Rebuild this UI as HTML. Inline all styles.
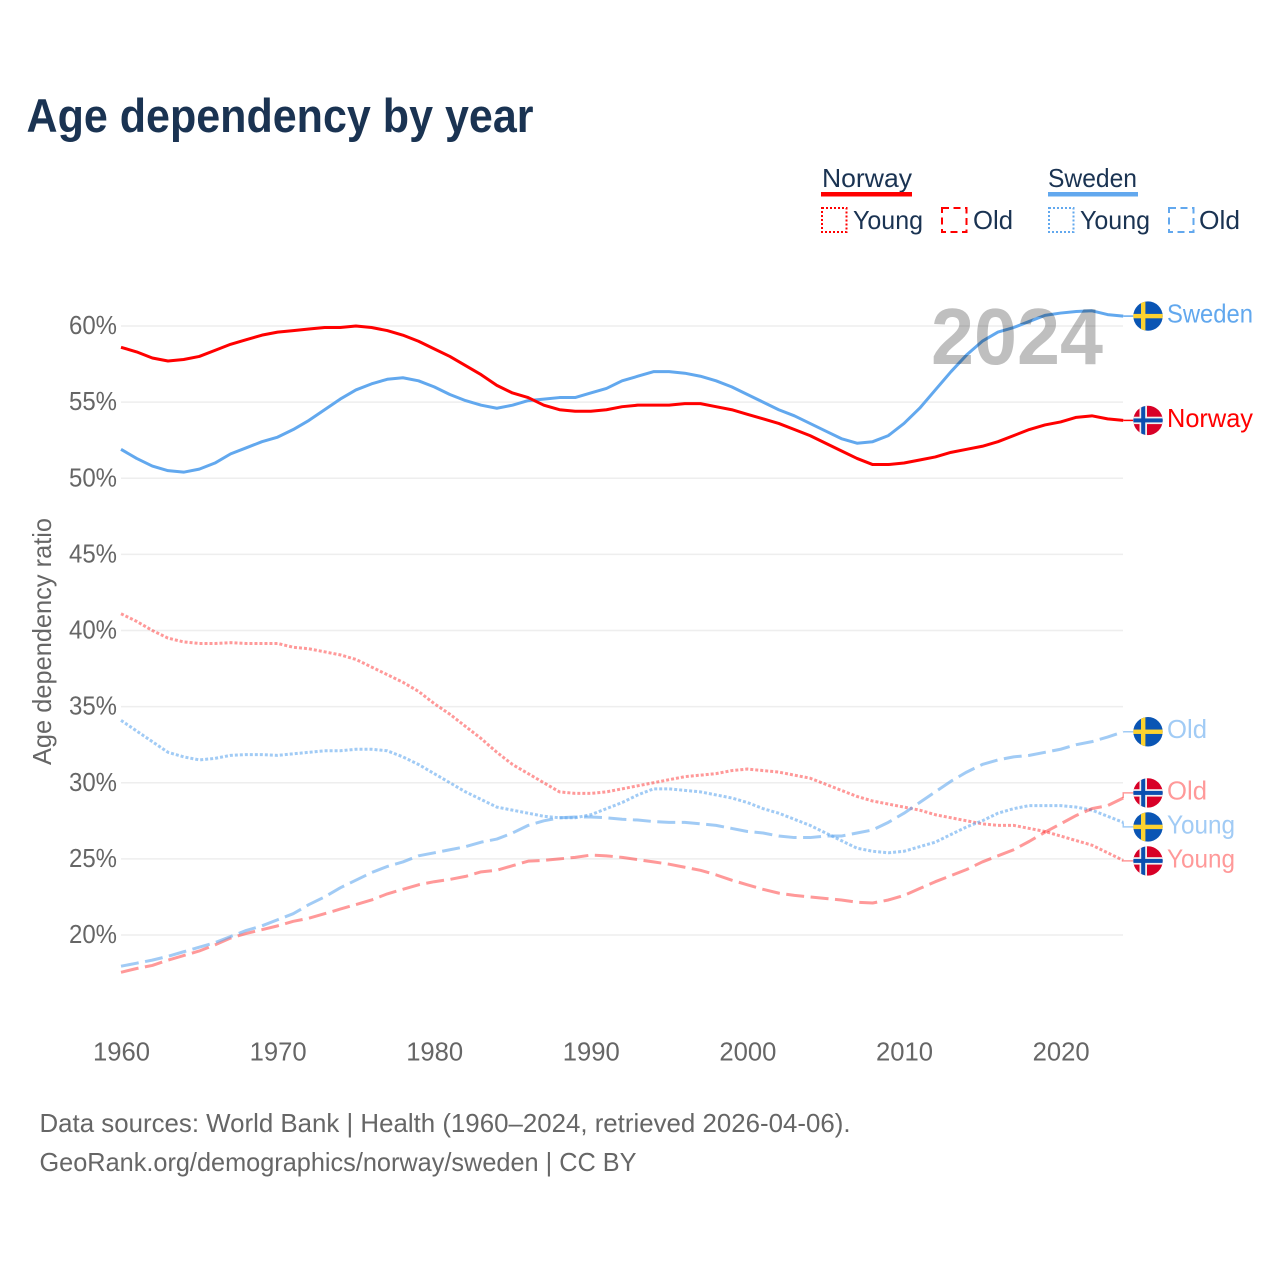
<!DOCTYPE html>
<html lang="en">
<head>
<meta charset="utf-8">
<title>Age dependency by year</title>
<style>
html,body{margin:0;padding:0;background:#fff}
svg{display:block}
text{font-family:"Liberation Sans",sans-serif}
</style>
</head>
<body>
<svg id="chart" xmlns="http://www.w3.org/2000/svg" width="1280" height="1280" viewBox="0 0 1280 1280">
  <defs>
    <clipPath id="flag-clip"><circle cx="0" cy="0" r="14.7"></circle></clipPath>
  </defs>
  <rect width="1280" height="1280" fill="#fff"></rect>
  <text x="26.5" y="132" font-size="47" font-weight="700" fill="#1a3352" textLength="507" lengthAdjust="spacingAndGlyphs">Age dependency by year</text>

  <g font-size="26" fill="#1a3352">
    <text x="822" y="187" textLength="90" lengthAdjust="spacingAndGlyphs">Norway</text>
    <rect x="821" y="192" width="91" height="4.5" fill="#ff0000"></rect>
    <rect x="822" y="208" width="24.5" height="24" fill="none" stroke="#ff0000" stroke-width="2" stroke-dasharray="2 2"></rect>
    <text x="853" y="229" textLength="70" lengthAdjust="spacingAndGlyphs">Young</text>
    <rect x="942" y="208" width="24.5" height="24" fill="none" stroke="#ff0000" stroke-width="2" stroke-dasharray="7 4.5"></rect>
    <text x="973" y="229" textLength="40" lengthAdjust="spacingAndGlyphs">Old</text>
    <text x="1048" y="187" textLength="89" lengthAdjust="spacingAndGlyphs">Sweden</text>
    <rect x="1048" y="192" width="90" height="4.5" fill="#62a8ee"></rect>
    <rect x="1049" y="208" width="24.5" height="24" fill="none" stroke="#62a8ee" stroke-width="2" stroke-dasharray="2 2"></rect>
    <text x="1080" y="229" textLength="70" lengthAdjust="spacingAndGlyphs">Young</text>
    <rect x="1169" y="208" width="24.5" height="24" fill="none" stroke="#62a8ee" stroke-width="2" stroke-dasharray="7 4.5"></rect>
    <text x="1199" y="229" textLength="41" lengthAdjust="spacingAndGlyphs">Old</text>
  </g>

  <g id="grid"></g>
  <g id="y-ticks"></g>
  <g id="x-ticks"></g>
  <text transform="translate(51,765) rotate(-90)" font-size="26" fill="#666666" textLength="247" lengthAdjust="spacingAndGlyphs">Age dependency ratio</text>
  <g id="series"></g>
  <text x="931" y="364" font-size="80" font-weight="700" fill="#000000" fill-opacity="0.25" textLength="172" lengthAdjust="spacingAndGlyphs">2024</text>
  <g id="end-labels"></g>

  <g font-size="26" fill="#666666">
    <text x="39.5" y="1132" textLength="811" lengthAdjust="spacingAndGlyphs">Data sources: World Bank | Health (1960–2024, retrieved 2026-04-06).</text>
    <text x="39.5" y="1171" textLength="597" lengthAdjust="spacingAndGlyphs">GeoRank.org/demographics/norway/sweden | CC BY</text>
  </g>
</svg>
<script>
const startYear = 1960;
const yTicks = [20, 25, 30, 35, 40, 45, 50, 55, 60];
const xTicks = [1960, 1970, 1980, 1990, 2000, 2010, 2020];

const norwayTotal = [
  58.6, 58.3, 57.9, 57.7, 57.8, 58.0, 58.4, 58.8, 59.1, 59.4,
  59.6, 59.7, 59.8, 59.9, 59.9, 60.0, 59.9, 59.7, 59.4, 59.0,
  58.5, 58.0, 57.4, 56.8, 56.1, 55.6, 55.3, 54.8, 54.5, 54.4,
  54.4, 54.5, 54.7, 54.8, 54.8, 54.8, 54.9, 54.9, 54.7, 54.5,
  54.2, 53.9, 53.6, 53.2, 52.8, 52.3, 51.8, 51.3, 50.9, 50.9,
  51.0, 51.2, 51.4, 51.7, 51.9, 52.1, 52.4, 52.8, 53.2, 53.5,
  53.7, 54.0, 54.1, 53.9, 53.8
];
const swedenTotal = [
  51.9, 51.3, 50.8, 50.5, 50.4, 50.6, 51.0, 51.6, 52.0, 52.4,
  52.7, 53.2, 53.8, 54.5, 55.2, 55.8, 56.2, 56.5, 56.6, 56.4,
  56.0, 55.5, 55.1, 54.8, 54.6, 54.8, 55.1, 55.2, 55.3, 55.3,
  55.6, 55.9, 56.4, 56.7, 57.0, 57.0, 56.9, 56.7, 56.4, 56.0,
  55.5, 55.0, 54.5, 54.1, 53.6, 53.1, 52.6, 52.3, 52.4, 52.8,
  53.6, 54.6, 55.8, 57.0, 58.1, 59.0, 59.6, 59.9, 60.3, 60.7,
  60.85, 60.95, 61.0, 60.75, 60.65
];
const norwayYoung = [
  41.1, 40.6, 40.0, 39.5, 39.25, 39.15, 39.15, 39.2, 39.15, 39.15,
  39.15, 38.9, 38.8, 38.6, 38.4, 38.1, 37.6, 37.1, 36.6, 36.0,
  35.2, 34.5, 33.7, 32.9, 32.0, 31.2, 30.6, 30.0, 29.4, 29.3,
  29.3, 29.4, 29.6, 29.8, 30.0, 30.2, 30.4, 30.5, 30.6, 30.8,
  30.9, 30.8, 30.7, 30.5, 30.3, 29.9, 29.5, 29.1, 28.8, 28.6,
  28.4, 28.2, 27.9, 27.7, 27.5, 27.3, 27.2, 27.2, 27.0, 26.8,
  26.5, 26.2, 25.9, 25.4, 24.9
];
const swedenYoung = [
  34.1, 33.4, 32.7, 32.0, 31.7, 31.5, 31.6, 31.8, 31.85, 31.85,
  31.8, 31.9, 32.0, 32.1, 32.1, 32.2, 32.2, 32.1, 31.7, 31.2,
  30.6, 30.0, 29.4, 28.9, 28.4, 28.2, 28.0, 27.8, 27.7, 27.7,
  27.9, 28.3, 28.7, 29.2, 29.6, 29.6, 29.5, 29.4, 29.2, 29.0,
  28.7, 28.3, 28.0, 27.6, 27.2, 26.7, 26.2, 25.7, 25.5, 25.4,
  25.5, 25.8, 26.1, 26.6, 27.1, 27.5, 28.0, 28.3, 28.5, 28.5,
  28.5, 28.4, 28.2, 27.8, 27.4
];
const swedenOld = [
  17.95, 18.15, 18.35, 18.6, 18.9, 19.2, 19.5, 19.9, 20.3, 20.6,
  21.0, 21.4, 22.0, 22.5, 23.1, 23.6, 24.1, 24.5, 24.8, 25.2,
  25.4, 25.6, 25.8, 26.1, 26.3, 26.7, 27.2, 27.5, 27.7, 27.75,
  27.75, 27.7, 27.6, 27.55, 27.45, 27.4, 27.4, 27.3, 27.2, 27.0,
  26.8, 26.7, 26.5, 26.4, 26.4, 26.5, 26.5, 26.7, 26.9, 27.4,
  28.0, 28.7, 29.4, 30.1, 30.7, 31.2, 31.5, 31.7, 31.8, 32.0,
  32.2, 32.5, 32.7, 33.0, 33.35
];
const norwayOld = [
  17.55, 17.8, 18.0, 18.35, 18.65, 18.95, 19.35, 19.8, 20.1, 20.35,
  20.6, 20.9, 21.1, 21.4, 21.7, 22.0, 22.3, 22.7, 23.0, 23.3,
  23.5, 23.65, 23.85, 24.15, 24.25, 24.55, 24.85, 24.9, 25.0, 25.1,
  25.25, 25.2, 25.1, 24.95, 24.8, 24.65, 24.45, 24.25, 23.95, 23.6,
  23.3, 23.0, 22.75, 22.6, 22.5, 22.4, 22.3, 22.15, 22.1, 22.3,
  22.6, 23.05, 23.5, 23.9, 24.3, 24.8, 25.2, 25.6, 26.15, 26.75,
  27.3, 27.85, 28.3, 28.5, 29.0
];

const NS = 'http://www.w3.org/2000/svg';
const xScale = year => 121 + (year - 1960) * 15.66;
const yScale = value => 935 - (value - 20) * 15.225;

function make(tag, attrs, parent) {
  const el = document.createElementNS(NS, tag);
  Object.keys(attrs).forEach(k => el.setAttribute(k, attrs[k]));
  parent.appendChild(el);
  return el;
}

const gridG = document.getElementById('grid');
const yTickG = document.getElementById('y-ticks');
yTicks.forEach(v => {
  const line = make('line', {x1: 121, x2: 1123, y1: yScale(v), y2: yScale(v), stroke: '#eeeeee', 'stroke-width': 1.5}, gridG);
  
  
  const t = make('text', {x: 117, y: yScale(v) + 8, 'text-anchor': 'end', 'font-size': 26, fill: '#666666', textLength: 48, lengthAdjust: 'spacingAndGlyphs'}, yTickG);
  
  
  t.textContent = v + '%';
});

const xTickG = document.getElementById('x-ticks');
xTicks.forEach(yr => {
  const t = make('text', {x: xScale(yr) + 0.5, y: 1060.5, 'text-anchor': 'middle', 'font-size': 26, fill: '#666666', textLength: 57, lengthAdjust: 'spacingAndGlyphs'}, xTickG);
  
  
  t.textContent = yr;
});

const seriesList = [
  {id: 'norway-young', values: norwayYoung, color: '#ff0000', op: 0.4, dash: '3 2', label: 'Young', flag: 'no', lw: 68},
  {id: 'sweden-young', values: swedenYoung, color: '#62a8ee', op: 0.6, dash: '3 2', label: 'Young', flag: 'se', lw: 68},
  {id: 'norway-old', values: norwayOld, color: '#ff0000', op: 0.4, dash: '18 6.5', label: 'Old', flag: 'no', lw: 40},
  {id: 'sweden-old', values: swedenOld, color: '#62a8ee', op: 0.6, dash: '18 6.5', label: 'Old', flag: 'se', lw: 40},
  {id: 'sweden-total', values: swedenTotal, color: '#62a8ee', op: 1, dash: null, label: 'Sweden', flag: 'se', lw: 86},
  {id: 'norway-total', values: norwayTotal, color: '#ff0000', op: 1, dash: null, label: 'Norway', flag: 'no', lw: 86}
];

const seriesG = document.getElementById('series');
seriesList.forEach(s => {
  const pts = s.values.map((v, i) => xScale(startYear + i).toFixed(2) + ',' + yScale(v).toFixed(2)).join(' ');
  const attrs = {points: pts, fill: 'none', stroke: s.color, 'stroke-opacity': s.op, 'stroke-width': 3, 'stroke-linejoin': 'round'};
  if (s.dash) attrs['stroke-dasharray'] = s.dash;
  const line = make('polyline', attrs, seriesG);
  
  
});

/* Dodge the end labels: overlapping labels form clusters centred on their mean */
const GAP = 34;
function dodge(items) {
  let clusters = items.slice().sort((a, b) => a.end - b.end).map(it => ({members: [it], center: it.end}));
  let changed = true;
  while (changed) {
    changed = false;
    for (let i = 0; i < clusters.length - 1; i++) {
      const a = clusters[i], b = clusters[i + 1];
      const aBottom = a.center + (a.members.length - 1) * GAP / 2;
      const bTop = b.center - (b.members.length - 1) * GAP / 2;
      if (bTop - aBottom < GAP) {
        const members = a.members.concat(b.members);
        const center = members.reduce((sum, m) => sum + m.end, 0) / members.length;
        clusters.splice(i, 2, {members: members, center: center});
        changed = true;
        break;
      }
    }
  }
  clusters.forEach(c => c.members.forEach((m, i) => {
    m.labelY = c.center + (i - (c.members.length - 1) / 2) * GAP;
  }));
}

const labelItems = seriesList.map(s => ({s: s, end: yScale(s.values[s.values.length - 1])}));
dodge(labelItems);

const labelsG = document.getElementById('end-labels');
const endX = xScale(startYear + norwayTotal.length - 1);

function drawFlag(kind, cy, parent) {
  const g = make('g', {transform: 'translate(1148,' + cy.toFixed(2) + ')', 'clip-path': 'url(#flag-clip)'}, parent);
  
  
  if (kind === 'se') {
    make('rect', {x: -15, y: -15, width: 30, height: 30, fill: '#0a55b4'}, g);
    make('rect', {x: -7, y: -15, width: 4.4, height: 30, fill: '#fdd22f'}, g);
    make('rect', {x: -15, y: -2.2, width: 30, height: 4.4, fill: '#fdd22f'}, g);
  } else {
    make('rect', {x: -15, y: -15, width: 30, height: 30, fill: '#d80027'}, g);
    make('rect', {x: -8.5, y: -15, width: 7.5, height: 30, fill: '#f0f0f0'}, g);
    make('rect', {x: -15, y: -3.7, width: 30, height: 7.4, fill: '#f0f0f0'}, g);
    make('rect', {x: -6.8, y: -15, width: 4, height: 30, fill: '#0a4fb0'}, g);
    make('rect', {x: -15, y: -2, width: 30, height: 4, fill: '#0a4fb0'}, g);
  }
}

labelItems.forEach(it => {
  const s = it.s;
  const path = 'M' + endX + ' ' + it.end.toFixed(2) + ' L' + endX + ' ' + it.labelY.toFixed(2) + ' L1133 ' + it.labelY.toFixed(2);
  const conn = make('path', {d: path, fill: 'none', stroke: s.color, 'stroke-opacity': s.op, 'stroke-width': 1.5}, labelsG);
  
  
  drawFlag(s.flag, it.labelY, labelsG);
  const t = make('text', {x: 1167, y: it.labelY + 6.5, 'font-size': 26, fill: s.color, 'fill-opacity': s.op, textLength: s.lw, lengthAdjust: 'spacingAndGlyphs'}, labelsG);
  
  
  t.textContent = s.label;
});
</script>
</body>
</html>
